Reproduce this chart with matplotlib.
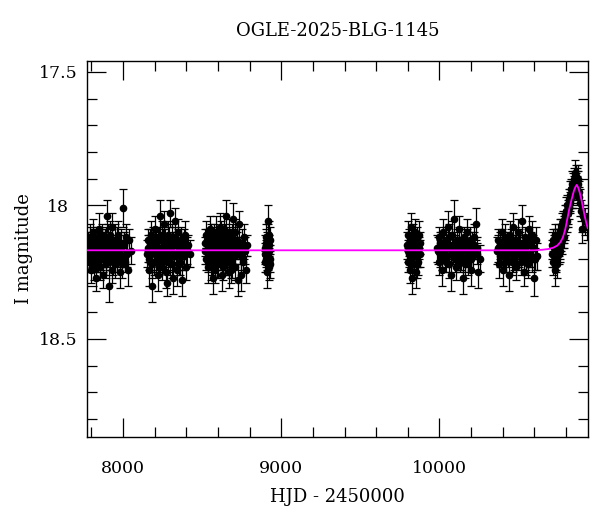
import matplotlib
matplotlib.use('Agg')
import matplotlib.pyplot as plt
from matplotlib.ticker import MultipleLocator

# OGLE photometry, read off the reference picture season by season
# season 1
t1 = [7781, 7785, 7791, 7794, 7799, 7804, 7808, 7813, 7817, 7822,
      7827, 7831, 7835, 7841, 7846, 7851, 7855, 7861, 7866, 7870,
      7876, 7882, 7886, 7891, 7897, 7903, 7907, 7912, 7918, 7924,
      7929, 7933, 7940, 7946, 7951, 7955, 7962, 7968, 7973, 7978,
      7985, 7990, 7998, 8003, 8011, 8016, 8025, 8032, 8040, 8053,
      7783, 7788, 7796, 7801, 7806, 7815, 7820, 7829, 7838, 7844,
      7853, 7858, 7864, 7874, 7879, 7889, 7894, 7900, 7910, 7915,
      7921, 7931, 7937, 7943, 7959, 7970, 7982, 7994, 8007, 8021]
m1 = [18.15, 18.21, 18.12, 18.19, 18.24, 18.16, 18.10, 18.18, 18.22, 18.14,
      18.27, 18.17, 18.13, 18.20, 18.09, 18.18, 18.23, 18.15, 18.11, 18.19,
      18.26, 18.16, 18.14, 18.21, 18.04, 18.17, 18.12, 18.30, 18.19, 18.15,
      18.24, 18.08, 18.18, 18.13, 18.22, 18.16, 18.20, 18.11, 18.17, 18.25,
      18.14, 18.19, 18.01, 18.15, 18.21, 18.12, 18.18, 18.24, 18.13, 18.17,
      18.17, 18.13, 18.20, 18.15, 18.18, 18.14, 18.21, 18.16, 18.19, 18.12,
      18.17, 18.20, 18.14, 18.18, 18.15, 18.22, 18.13, 18.19, 18.16, 18.11,
      18.18, 18.14, 18.21, 18.17, 18.13, 18.19, 18.16, 18.22, 18.14, 18.18]
e1 = [0.05, 0.04, 0.05, 0.06, 0.05, 0.04, 0.05, 0.05, 0.06, 0.04,
      0.05, 0.04, 0.05, 0.05, 0.06, 0.04, 0.05, 0.05, 0.04, 0.06,
      0.05, 0.04, 0.05, 0.05, 0.06, 0.04, 0.05, 0.06, 0.05, 0.04,
      0.05, 0.05, 0.04, 0.06, 0.05, 0.04, 0.05, 0.05, 0.04, 0.06,
      0.05, 0.04, 0.07, 0.05, 0.04, 0.05, 0.05, 0.06, 0.04, 0.05,
      0.04, 0.05, 0.05, 0.04, 0.05, 0.05, 0.04, 0.05, 0.06, 0.04,
      0.05, 0.04, 0.05, 0.05, 0.04, 0.05, 0.05, 0.04, 0.05, 0.05,
      0.04, 0.05, 0.05, 0.04, 0.05, 0.04, 0.05, 0.05, 0.04, 0.05]

# season 2
t2 = [8151, 8155, 8161, 8166, 8170, 8176, 8181, 8185, 8191, 8196,
      8203, 8206, 8211, 8218, 8221, 8226, 8233, 8236, 8241, 8248,
      8251, 8258, 8261, 8266, 8273, 8276, 8283, 8286, 8291, 8298,
      8301, 8308, 8311, 8316, 8323, 8326, 8333, 8336, 8343, 8347,
      8354, 8358, 8366, 8370, 8378, 8383, 8392, 8398, 8409, 8421,
      8158, 8164, 8173, 8179, 8188, 8194, 8200, 8209, 8215, 8224,
      8230, 8239, 8245, 8254, 8264, 8270, 8279, 8289, 8295, 8304,
      8314, 8320, 8329, 8339, 8345, 8351, 8362, 8374, 8387, 8403]
m2 = [18.18, 18.13, 18.24, 18.16, 18.21, 18.11, 18.30, 18.22, 18.14, 18.17,
      18.09, 18.21, 18.15, 18.26, 18.12, 18.18, 18.04, 18.20, 18.16, 18.23,
      18.13, 18.19, 18.07, 18.17, 18.25, 18.29, 18.21, 18.11, 18.18, 18.03,
      18.16, 18.22, 18.12, 18.27, 18.15, 18.06, 18.19, 18.14, 18.24, 18.10,
      18.17, 18.21, 18.13, 18.28, 18.16, 18.19, 18.11, 18.23, 18.15, 18.18,
      18.16, 18.20, 18.14, 18.18, 18.12, 18.21, 18.17, 18.15, 18.19, 18.13,
      18.22, 18.16, 18.11, 18.18, 18.14, 18.20, 18.16, 18.13, 18.21, 18.17,
      18.15, 18.19, 18.12, 18.18, 18.14, 18.22, 18.16, 18.19, 18.13, 18.17]
e2 = [0.05, 0.04, 0.06, 0.05, 0.04, 0.05, 0.06, 0.05, 0.04, 0.05,
      0.05, 0.04, 0.05, 0.06, 0.04, 0.05, 0.06, 0.05, 0.04, 0.05,
      0.04, 0.05, 0.05, 0.04, 0.06, 0.05, 0.04, 0.05, 0.05, 0.05,
      0.04, 0.05, 0.05, 0.06, 0.04, 0.05, 0.05, 0.04, 0.06, 0.05,
      0.04, 0.05, 0.05, 0.06, 0.04, 0.05, 0.05, 0.05, 0.04, 0.05,
      0.05, 0.04, 0.05, 0.05, 0.04, 0.05, 0.05, 0.04, 0.05, 0.05,
      0.04, 0.05, 0.05, 0.04, 0.05, 0.05, 0.04, 0.05, 0.05, 0.04,
      0.05, 0.05, 0.04, 0.05, 0.05, 0.04, 0.05, 0.05, 0.04, 0.05]

# season 3
t3 = [8519, 8524, 8527, 8532, 8537, 8540, 8545, 8550, 8553, 8558,
      8563, 8566, 8571, 8576, 8580, 8585, 8589, 8594, 8598, 8603,
      8607, 8612, 8616, 8621, 8626, 8630, 8635, 8639, 8644, 8649,
      8653, 8658, 8663, 8667, 8672, 8677, 8681, 8686, 8690, 8696,
      8701, 8705, 8710, 8716, 8720, 8726, 8732, 8737, 8743, 8750,
      8755, 8762, 8769, 8777, 8786,
      8521, 8529, 8534, 8542, 8547, 8555, 8560, 8568, 8573, 8582,
      8587, 8596, 8600, 8609, 8614, 8619, 8623, 8628, 8632, 8637,
      8642, 8646, 8651, 8656, 8660, 8665, 8670, 8674, 8679, 8684,
      8693, 8708, 8723, 8746, 8766]
m3 = [18.14, 18.20, 18.11, 18.17, 18.23, 18.15, 18.19, 18.09, 18.23, 18.16,
      18.13, 18.27, 18.18, 18.12, 18.24, 18.16, 18.10, 18.19, 18.14, 18.22,
      18.17, 18.08, 18.20, 18.15, 18.26, 18.13, 18.18, 18.09, 18.21, 18.16,
      18.04, 18.19, 18.14, 18.25, 18.10, 18.17, 18.22, 18.12, 18.22, 18.05,
      18.19, 18.10, 18.23, 18.16, 18.13, 18.28, 18.07, 18.18, 18.26, 18.14,
      18.21, 18.12, 18.17, 18.24, 18.15,
      18.17, 18.13, 18.20, 18.15, 18.18, 18.12, 18.21, 18.16, 18.19, 18.14,
      18.17, 18.22, 18.13, 18.18, 18.15, 18.11, 18.20, 18.16, 18.23, 18.14,
      18.18, 18.12, 18.19, 18.15, 18.21, 18.17, 18.13, 18.20, 18.16, 18.24,
      18.14, 18.18, 18.15, 18.19, 18.16]
e3 = [0.05, 0.04, 0.05, 0.05, 0.06, 0.04, 0.05, 0.05, 0.05, 0.04,
      0.05, 0.06, 0.04, 0.05, 0.05, 0.04, 0.06, 0.05, 0.04, 0.05,
      0.05, 0.05, 0.04, 0.05, 0.06, 0.04, 0.05, 0.05, 0.05, 0.04,
      0.06, 0.05, 0.04, 0.06, 0.05, 0.04, 0.05, 0.05, 0.05, 0.06,
      0.04, 0.05, 0.05, 0.04, 0.05, 0.06, 0.05, 0.04, 0.06, 0.05,
      0.04, 0.05, 0.05, 0.05, 0.04,
      0.05, 0.04, 0.05, 0.05, 0.04, 0.05, 0.05, 0.04, 0.05, 0.05,
      0.04, 0.05, 0.05, 0.04, 0.05, 0.05, 0.04, 0.05, 0.05, 0.04,
      0.05, 0.05, 0.04, 0.05, 0.05, 0.04, 0.05, 0.05, 0.04, 0.05,
      0.05, 0.04, 0.05, 0.05, 0.04]

# season 4 (short)
t4 = [8897, 8899, 8902, 8904, 8907, 8909, 8912, 8914, 8917, 8920, 8922, 8925, 8928, 8931,
      8898, 8901, 8906, 8911, 8916, 8919, 8924, 8929]
m4 = [18.16, 18.21, 18.12, 18.18, 18.25, 18.14, 18.19, 18.06, 18.17, 18.23, 18.11, 18.15, 18.20, 18.13,
      18.18, 18.14, 18.20, 18.16, 18.12, 18.19, 18.17, 18.22]
e4 = [0.05, 0.04, 0.05, 0.05, 0.06, 0.04, 0.05, 0.06, 0.04, 0.05, 0.05, 0.04, 0.05, 0.05,
      0.04, 0.05, 0.05, 0.04, 0.05, 0.05, 0.04, 0.05]

# season 5 (short)
t5 = [9797, 9801, 9804, 9808, 9812, 9815, 9819, 9823, 9826, 9830, 9834,
      9838, 9841, 9845, 9849, 9852, 9856, 9860, 9864, 9868, 9873, 9879,
      9799, 9806, 9811, 9817, 9828, 9836, 9847, 9858, 9866, 9876]
m5 = [18.15, 18.21, 18.11, 18.18, 18.24, 18.14, 18.08, 18.19, 18.27, 18.16, 18.12,
      18.22, 18.17, 18.10, 18.25, 18.15, 18.19, 18.13, 18.21, 18.16, 18.11, 18.18,
      18.17, 18.14, 18.20, 18.16, 18.13, 18.19, 18.15, 18.22, 18.18, 18.14]
e5 = [0.05, 0.04, 0.05, 0.05, 0.05, 0.04, 0.05, 0.05, 0.06, 0.04, 0.05,
      0.05, 0.04, 0.05, 0.06, 0.05, 0.04, 0.05, 0.05, 0.04, 0.05, 0.05,
      0.04, 0.05, 0.05, 0.04, 0.05, 0.05, 0.04, 0.05, 0.05, 0.04]

# season 6
t6 = [9987, 9994, 9999, 10005, 10012, 10019, 10025, 10030, 10037, 10044,
      10050, 10055, 10062, 10069, 10075, 10080, 10087, 10093, 10101, 10106,
      10112, 10119, 10125, 10130, 10137, 10144, 10150, 10155, 10162, 10169,
      10175, 10180, 10187, 10194, 10200, 10205, 10212, 10220, 10228, 10236,
      10245, 10256,
      9990, 10002, 10015, 10028, 10040, 10047, 10059, 10072, 10084, 10097,
      10109, 10122, 10134, 10147, 10159, 10172, 10184, 10197, 10216, 10240]
m6 = [18.16, 18.12, 18.21, 18.18, 18.14, 18.24, 18.10, 18.17, 18.20, 18.13,
      18.19, 18.08, 18.22, 18.15, 18.26, 18.11, 18.18, 18.05, 18.16, 18.23,
      18.13, 18.19, 18.09, 18.21, 18.14, 18.17, 18.27, 18.12, 18.20, 18.15,
      18.10, 18.22, 18.18, 18.13, 18.24, 18.14, 18.19, 18.12, 18.07, 18.16,
      18.25, 18.20,
      18.17, 18.14, 18.19, 18.15, 18.21, 18.16, 18.12, 18.18, 18.15, 18.20,
      18.17, 18.13, 18.19, 18.16, 18.22, 18.14, 18.17, 18.20, 18.15, 18.18]
e6 = [0.05, 0.04, 0.05, 0.05, 0.04, 0.06, 0.05, 0.04, 0.05, 0.05,
      0.04, 0.06, 0.05, 0.04, 0.06, 0.05, 0.04, 0.07, 0.05, 0.05,
      0.04, 0.05, 0.05, 0.04, 0.05, 0.05, 0.06, 0.04, 0.05, 0.05,
      0.05, 0.04, 0.05, 0.05, 0.06, 0.04, 0.05, 0.05, 0.06, 0.04,
      0.06, 0.05,
      0.05, 0.04, 0.05, 0.05, 0.04, 0.05, 0.05, 0.04, 0.05, 0.05,
      0.04, 0.05, 0.05, 0.04, 0.05, 0.05, 0.04, 0.05, 0.05, 0.04]

# season 7
t7 = [10366, 10371, 10378, 10385, 10390, 10395, 10402, 10409, 10414, 10419,
      10426, 10433, 10438, 10443, 10450, 10457, 10462, 10467, 10474, 10481,
      10486, 10491, 10498, 10505, 10510, 10515, 10522, 10529, 10534, 10539,
      10546, 10553, 10558, 10563, 10570, 10577, 10582, 10587, 10594, 10600,
      10608, 10617,
      10369, 10381, 10393, 10405, 10417, 10429, 10441, 10453, 10465, 10477,
      10489, 10501, 10513, 10525, 10537, 10549, 10561, 10573, 10590, 10604]
m7 = [18.17, 18.13, 18.22, 18.15, 18.19, 18.10, 18.24, 18.16, 18.12, 18.20,
      18.14, 18.18, 18.26, 18.11, 18.17, 18.21, 18.08, 18.15, 18.19, 18.13,
      18.23, 18.16, 18.10, 18.18, 18.14, 18.21, 18.06, 18.17, 18.25, 18.12,
      18.19, 18.15, 18.22, 18.09, 18.18, 18.14, 18.20, 18.11, 18.16, 18.27,
      18.13, 18.19,
      18.16, 18.19, 18.14, 18.18, 18.21, 18.15, 18.17, 18.13, 18.20, 18.16,
      18.18, 18.14, 18.19, 18.15, 18.17, 18.21, 18.13, 18.18, 18.16, 18.20]
e7 = [0.05, 0.04, 0.05, 0.05, 0.04, 0.05, 0.06, 0.04, 0.05, 0.05,
      0.04, 0.05, 0.06, 0.05, 0.04, 0.05, 0.05, 0.04, 0.05, 0.05,
      0.05, 0.04, 0.05, 0.05, 0.04, 0.05, 0.06, 0.05, 0.05, 0.04,
      0.05, 0.04, 0.05, 0.05, 0.05, 0.04, 0.05, 0.05, 0.04, 0.07,
      0.05, 0.05,
      0.05, 0.04, 0.05, 0.05, 0.04, 0.05, 0.05, 0.04, 0.05, 0.05,
      0.04, 0.05, 0.05, 0.04, 0.05, 0.05, 0.04, 0.05, 0.05, 0.04]

# season 8 - the event
t8 = [10712, 10716, 10720, 10724, 10728, 10732, 10736, 10740, 10744, 10748,
      10752, 10756, 10760, 10764, 10768, 10772, 10776, 10780, 10784, 10788,
      10792, 10796, 10800, 10804, 10808, 10812, 10816, 10820, 10824, 10828,
      10832, 10836, 10840, 10844, 10848, 10852, 10856, 10860, 10864, 10868,
      10872, 10876, 10880, 10885, 10890, 10895, 10900, 10910, 10920, 10932,
      10714, 10722, 10730, 10738, 10746, 10754, 10762, 10770, 10778, 10786,
      10794, 10802, 10814, 10826, 10838, 10846, 10854, 10862, 10870, 10878]
m8 = [18.18, 18.13, 18.21, 18.16, 18.24, 18.11, 18.19, 18.14, 18.22, 18.15,
      18.12, 18.18, 18.10, 18.15, 18.09, 18.13, 18.07, 18.11, 18.06, 18.09,
      18.04, 18.07, 18.02, 18.06, 18.00, 18.03, 17.98, 18.01, 17.96, 17.99,
      17.94, 17.97, 17.92, 17.95, 17.90, 17.93, 17.88, 17.92, 17.89, 17.91,
      17.93, 17.90, 17.95, 17.97, 17.99, 18.02, 18.09, 18.04, 18.06, 18.08,
      18.15, 18.19, 18.14, 18.20, 18.16, 18.14, 18.17, 18.12, 18.10, 18.12,
      18.08, 18.04, 18.03, 17.98, 17.96, 17.92, 17.91, 17.94, 17.90, 17.92]
e8 = [0.05, 0.04, 0.05, 0.05, 0.06, 0.04, 0.05, 0.05, 0.05, 0.04,
      0.05, 0.04, 0.05, 0.05, 0.04, 0.05, 0.04, 0.05, 0.04, 0.05,
      0.04, 0.04, 0.05, 0.04, 0.04, 0.05, 0.04, 0.04, 0.05, 0.04,
      0.04, 0.04, 0.05, 0.04, 0.04, 0.04, 0.05, 0.04, 0.04, 0.04,
      0.04, 0.05, 0.04, 0.04, 0.05, 0.04, 0.05, 0.04, 0.05, 0.05,
      0.05, 0.04, 0.05, 0.05, 0.04, 0.05, 0.04, 0.05, 0.04, 0.04,
      0.05, 0.04, 0.04, 0.04, 0.05, 0.04, 0.04, 0.04, 0.04, 0.05]

# fitted model curve (magenta)
model_t = [7772, 10600, 10650, 10690, 10720, 10745, 10765, 10780, 10795, 10805,
           10820, 10835, 10850, 10860, 10868, 10878, 10888, 10897, 10908, 10918,
           10928, 10937]
model_m = [18.168, 18.168, 18.166, 18.163, 18.158, 18.150, 18.137, 18.120, 18.090, 18.060,
           18.015, 17.978, 17.945, 17.930, 17.923, 17.935, 17.955, 17.978, 18.010, 18.040,
           18.065, 18.085]

title = "OGLE-2025-BLG-1145"
xlabel = "HJD - 2450000"
ylabel = "I magnitude"

plt.rcParams['font.family'] = ['DejaVu Serif']
plt.rcParams['font.size'] = 12.5

fig = plt.figure(figsize=(6, 5.12), dpi=100)
ax = fig.add_axes([0.145, 0.147, 0.8345, 0.734])

seasons = [(t1, m1, e1), (t2, m2, e2), (t3, m3, e3), (t4, m4, e4),
           (t5, m5, e5), (t6, m6, e6), (t7, m7, e7), (t8, m8, e8)]
for t, m, e in seasons:
    ax.errorbar(t, m, yerr=e, fmt='o', color='black', ms=4.5,
                ecolor='black', elinewidth=0.9, capsize=2.6, capthick=0.9, zorder=2)

ax.plot(model_t, model_m, color='#ff00ff', lw=1.3, zorder=3)

ax.set_xlim(7772, 10937)
ax.set_ylim(18.866, 17.459)

ax.xaxis.set_major_locator(MultipleLocator(1000))
ax.xaxis.set_minor_locator(MultipleLocator(200))
ax.yaxis.set_major_locator(MultipleLocator(0.5))
ax.yaxis.set_minor_locator(MultipleLocator(0.1))
ax.set_yticks([17.5, 18.0, 18.5])
ax.set_yticklabels(['17.5', '18', '18.5'])

ax.tick_params(which='both', direction='in', top=True, right=True, width=0.9)
ax.tick_params(which='major', length=14)
ax.tick_params(which='minor', length=7)
ax.tick_params(axis='x', pad=17)
ax.tick_params(axis='y', pad=21)
for lab in ax.get_yticklabels():
    lab.set_ha('center')

for sp in ax.spines.values():
    sp.set_linewidth(1.0)

ax.set_title(title, fontsize=13, pad=18)
ax.set_xlabel(xlabel, fontsize=13, labelpad=8)
ax.set_ylabel(ylabel, fontsize=13, labelpad=4)

fig.savefig('out.png', dpi=100)
